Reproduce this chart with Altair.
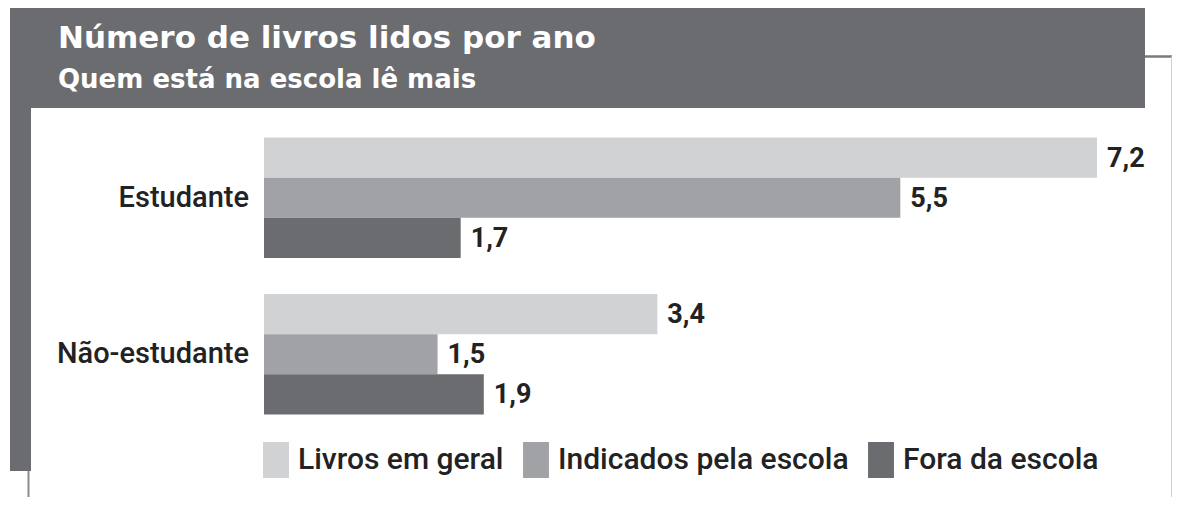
import altair as alt
import pandas as pd

groups = ["Estudante", "Não-estudante"]
series = ["Livros em geral", "Indicados pela escola", "Fora da escola"]
estudante = [7.2, 5.5, 1.7]
nao_estudante = [3.4, 1.5, 1.9]
colors = ["#d1d2d4", "#a1a2a5", "#6b6c70"]
title_text = "Número de livros lidos por ano"
subtitle_text = "Quem está na escola lê mais"

rows = []
for g, vals in zip(groups, [estudante, nao_estudante]):
    for s, v in zip(series, vals):
        rows.append({"grupo": g, "serie": s, "valor": v,
                     "rotulo": f"{v:.1f}".replace(".", ",")})
df = pd.DataFrame(rows)
gdf = pd.DataFrame({"grupo": groups})
dummy = pd.DataFrame({"a": [0]})

W, H = 1164, 489
BODY = "Roboto, Liberation Sans, sans-serif"
HEAD = "#6b6c70"
TXT = "#222222"

xscale = alt.Scale(domain=[0, 7.2], range=[256, 1089], nice=False, zero=True)
yscale = alt.Scale(domain=groups, range=[129.5, 406.5], paddingInner=0.23, paddingOuter=0)
yoff = alt.Scale(domain=series, paddingInner=0, paddingOuter=0)
cscale = alt.Scale(domain=series, range=colors)

header = alt.Chart(dummy).mark_rect(color=HEAD).encode(
    x=alt.value(2), x2=alt.value(1137), y=alt.value(0), y2=alt.value(100))
strip = alt.Chart(dummy).mark_rect(color=HEAD).encode(
    x=alt.value(2), x2=alt.value(23), y=alt.value(0), y2=alt.value(463))
vline = alt.Chart(dummy).mark_rule(color="#8a8a8a", strokeWidth=2).encode(
    x=alt.value(20.5), y=alt.value(463), y2=alt.value(489))
hline = alt.Chart(dummy).mark_rule(color="#7a7a7a", strokeWidth=2.5).encode(
    x=alt.value(1137), x2=alt.value(1164), y=alt.value(48.5))
rline = alt.Chart(dummy).mark_rule(color="#d0d0d0", strokeWidth=1).encode(
    x=alt.value(1163.5), y=alt.value(48.5), y2=alt.value(489))

t1 = alt.Chart(dummy).mark_text(text=title_text, align="left", baseline="alphabetic",
                                font="DejaVu Sans", fontWeight="bold", fontSize=31,
                                color="white").encode(x=alt.value(50), y=alt.value(40))
t2 = alt.Chart(dummy).mark_text(text=subtitle_text, align="left", baseline="alphabetic",
                                font="DejaVu Sans", fontWeight="bold", fontSize=26,
                                color="white").encode(x=alt.value(50), y=alt.value(80))

bars = alt.Chart(df).mark_bar().encode(
    x=alt.X("valor:Q", scale=xscale, axis=None),
    y=alt.Y("grupo:N", scale=yscale, axis=None),
    yOffset=alt.YOffset("serie:N", scale=yoff, sort=series),
    color=alt.Color("serie:N", scale=cscale, sort=series, legend=alt.Legend(
        orient="none", legendX=250, legendY=434, direction="horizontal",
        title=None, symbolType="M-0.72,-1H0.72V1H-0.72Z", symbolSize=1296,
        symbolStrokeWidth=0, symbolOpacity=1, labelFont=BODY, labelFontSize=30,
        labelFontWeight=500,
        labelColor=TXT, labelOffset=4, columnPadding=14, padding=0, labelLimit=500)),
)

vals = alt.Chart(df).mark_text(align="left", baseline="middle", dx=10, dy=1,
                               font=BODY, fontWeight="bold", fontSize=27,
                               color=TXT).encode(
    x=alt.X("valor:Q", scale=xscale, axis=None),
    y=alt.Y("grupo:N", scale=yscale, axis=None),
    yOffset=alt.YOffset("serie:N", scale=yoff, sort=series),
    text="rotulo:N",
)

grp = alt.Chart(gdf).mark_text(align="right", baseline="middle", font=BODY,
                               fontSize=29, fontWeight=500, color=TXT).encode(
    x=alt.value(241),
    y=alt.Y("grupo:N", scale=yscale, axis=None),
    text="grupo:N",
)

chart = alt.layer(header, strip, vline, hline, rline, t1, t2, bars, vals, grp).properties(
    width=W, height=H, padding=0, background="white",
    autosize=alt.AutoSizeParams(type="none"),
).configure_view(stroke=None)

chart.save("out.html", embed_options={"renderer": "svg", "actions": False})
